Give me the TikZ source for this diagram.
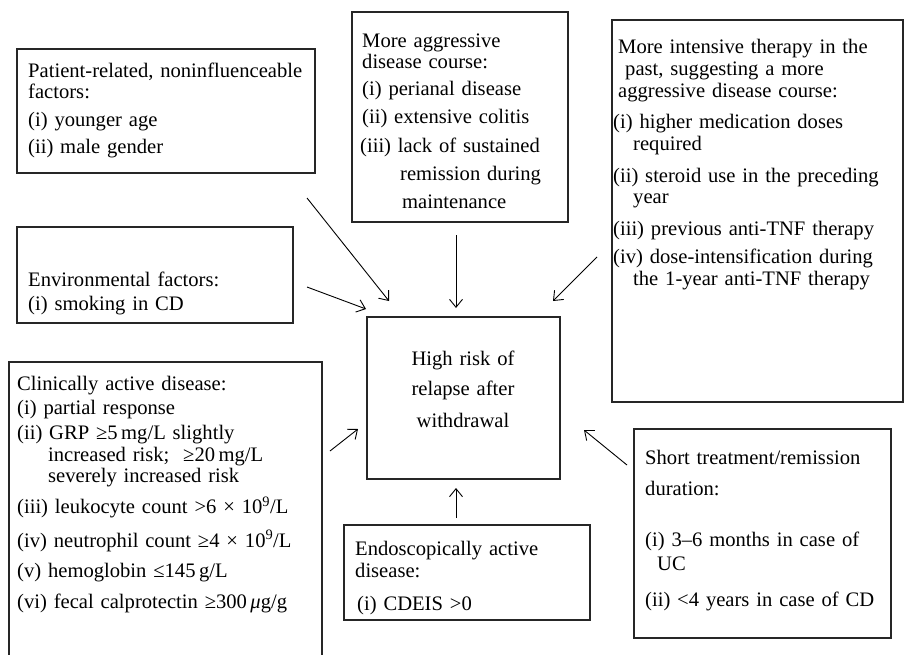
\documentclass[tikz,border=0pt]{standalone}
\usepackage{fontspec}
\setmainfont{Liberation Serif}
\usetikzlibrary{arrows.meta,fit}

\newcommand{\boxfont}{\fontsize{20.6}{21}\selectfont}

\begin{document}
\begin{tikzpicture}[x=1pt, y=-1pt, > = {Straight Barb[length=8pt,width=13pt]},
    box/.style={draw=black!85, line width=1.2pt, inner sep=0pt},
    txt/.style={anchor=base west, inner sep=0pt, text width=300pt, align=left, font=\boxfont},
    link/.style={->, line width=0.9pt}]
            \useasboundingbox (0,0) rectangle (905,654);
            % boxes
            \node[box, fit={(17,49) (315,173)}] (patient) {};
            \node[box, fit={(352,12) (568,222)}] (aggressive) {};
            \node[box, fit={(612,20) (903,402)}] (intensive) {};
            \node[box, fit={(17,227) (293,323)}] (environment) {};
            \node[box, fit={(367,317) (560,479)}] (risk) {};
            \node[box, fit={(9,362) (322,662)}] (clinical) {};
            \node[box, fit={(344,525) (590,620)}] (endoscopic) {};
            \node[box, fit={(634,429) (891,638)}] (duration) {};
            % texts
            \node[txt] (patienttext) at (28,77) {Patient-related, noninfluenceable\\[0.5pt]
                factors:\\[6.5pt]
                (i) younger age\\[6pt]
                (ii) male gender};
            \node[txt] (aggressivetext) at (360,47) {\hspace*{2pt}More aggressive\\
                \hspace*{2pt}disease course:\\[6pt]
                \hspace*{2pt}(i) perianal disease\\[7pt]
                \hspace*{2pt}(ii) extensive colitis\\[8pt]
                (iii) lack of sustained\\[7pt]
                \hspace*{40pt}remission during\\[7pt]
                \hspace*{42pt}maintenance};
            \node[txt] (intensivetext) at (613,53) {\hspace*{5pt}More intensive therapy in the\\[1pt]
                \hspace*{12pt}past, suggesting a more\\[1pt]
                \hspace*{5pt}aggressive disease course:\\[10pt]
                (i) higher medication doses\\[1pt]
                \hspace*{20pt}required\\[11pt]
                (ii) steroid use in the preceding\\
                \hspace*{20pt}year\\[11pt]
                (iii) previous anti-TNF therapy\\[7pt]
                (iv) dose-intensification during\\[1pt]
                \hspace*{20pt}the 1-year anti-TNF therapy};
            \node[txt] (environmenttext) at (28,286.5) {Environmental factors:\\[3pt]
                (i) smoking in CD};
            \node[txt, anchor=base, align=center, text width=190pt] (risktext) at (463,365) {High risk of\\[9.5pt]
                relapse after\\[10.5pt]
                withdrawal};
            \node[txt] (clinicaltext) at (17,390) {Clinically active disease:\\[3pt]
                (i) partial response\\[4pt]
                (ii) GRP ≥5\,mg/L slightly\\[1pt]
                \hspace*{31pt}increased risk;\ \ ≥20\,mg/L\\
                \hspace*{31pt}severely increased risk\\[9pt]
                (iii) leukocyte count >6 × 10\textsuperscript{9}/L\\[11pt]
                (iv) neutrophil count ≥4 × 10\textsuperscript{9}/L\\[9pt]
                (v) hemoglobin ≤145\,g/L\\[10pt]
                (vi) fecal calprotectin ≥300\,\textit{μ}g/g};
            \node[txt] (endoscopictext) at (355,555) {Endoscopically active\\[1pt]
                disease:\\[12pt]
                \hspace*{2pt}(i) CDEIS >0};
            \node[txt] (durationtext) at (645,464) {Short treatment/remission\\[10pt]
                duration:\\[30pt]
                (i) 3–6 months in case of\\[3pt]
                \hspace*{12pt}UC\\[15pt]
                (ii) <4 years in case of CD};
            % arrows
            \coordinate (patient-out) at (307,198);
            \coordinate (patient-in) at (389,301);
            \coordinate (environment-out) at (307,287);
            \coordinate (environment-in) at (366,309);
            \coordinate (aggressive-out) at (456,235);
            \coordinate (aggressive-in) at (456,308);
            \coordinate (intensive-out) at (597,257);
            \coordinate (intensive-in) at (553,301);
            \coordinate (clinical-out) at (330,451);
            \coordinate (clinical-in) at (358,429);
            \coordinate (endoscopic-out) at (456,518);
            \coordinate (endoscopic-in) at (456,488);
            \coordinate (duration-out) at (627,465);
            \coordinate (duration-in) at (584,430);
            \draw[link] (patient-out) -- (patient-in);
            \draw[link] (environment-out) -- (environment-in);
            \draw[link] (aggressive-out) -- (aggressive-in);
            \draw[link] (intensive-out) -- (intensive-in);
            \draw[link] (clinical-out) -- (clinical-in);
            \draw[link] (endoscopic-out) -- (endoscopic-in);
            \draw[link] (duration-out) -- (duration-in);
        \end{tikzpicture}
\end{document}
